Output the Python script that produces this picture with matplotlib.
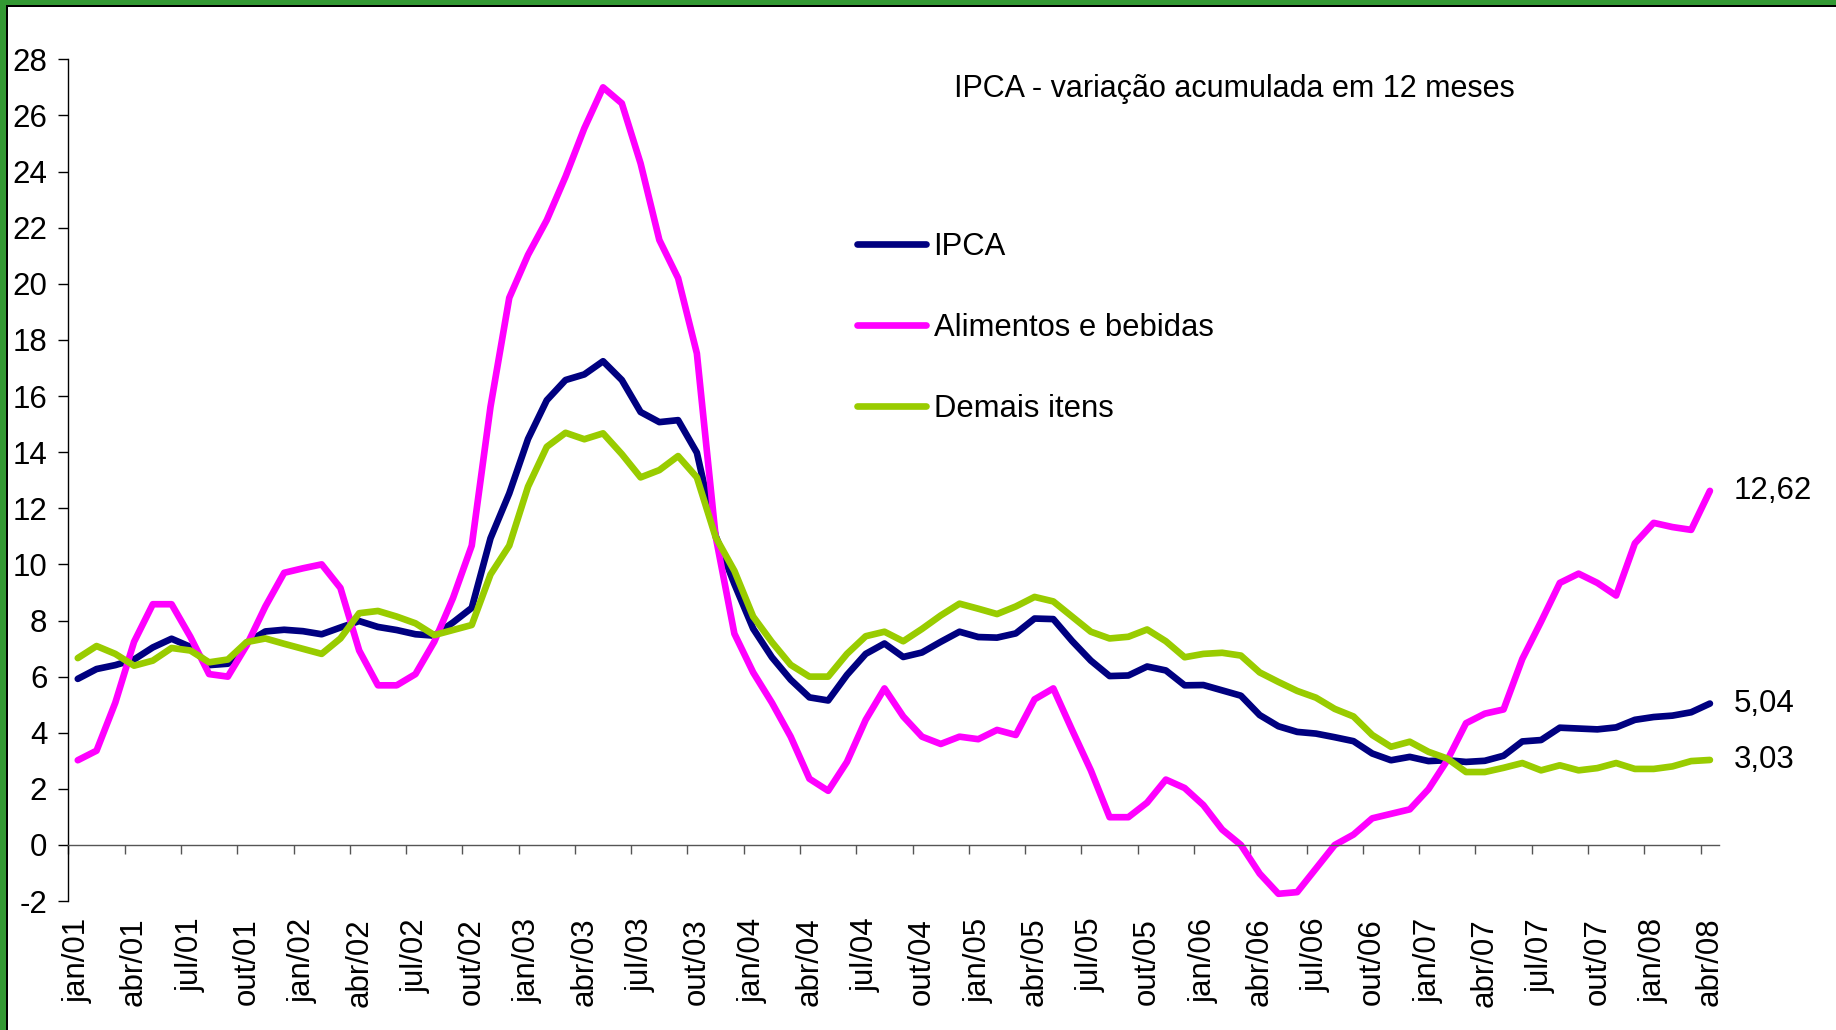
import matplotlib
matplotlib.use('Agg')
import matplotlib.pyplot as plt
from matplotlib.patches import Rectangle
import numpy as np

plt.rcParams['font.family'] = ['Liberation Sans', 'DejaVu Sans']
plt.rcParams['axes.unicode_minus'] = False

month_abbr = ['jan', 'fev', 'mar', 'abr', 'mai', 'jun', 'jul', 'ago', 'set', 'out', 'nov', 'dez']
years = ['01', '02', '03', '04', '05', '06', '07', '08']
months = [f'{m}/{y}' for y in years for m in month_abbr][:88]

ipca = [5.92, 6.27, 6.41, 6.61, 7.04, 7.35, 7.06, 6.41, 6.46, 7.21, 7.61, 7.67,
        7.62, 7.51, 7.75, 7.98, 7.77, 7.66, 7.51, 7.46, 7.93, 8.45, 10.93, 12.53,
        14.47, 15.85, 16.57, 16.77, 17.24, 16.57, 15.43, 15.07, 15.14, 13.98, 11.02, 9.30,
        7.71, 6.69, 5.89, 5.26, 5.15, 6.06, 6.81, 7.18, 6.70, 6.86, 7.24, 7.60,
        7.41, 7.39, 7.54, 8.07, 8.05, 7.27, 6.57, 6.02, 6.04, 6.36, 6.22, 5.69,
        5.70, 5.51, 5.32, 4.63, 4.23, 4.03, 3.97, 3.84, 3.70, 3.26, 3.02, 3.14,
        2.99, 3.02, 2.96, 3.00, 3.18, 3.69, 3.74, 4.18, 4.15, 4.12, 4.19, 4.46,
        4.56, 4.61, 4.73, 5.04]

alimentos = [3.02, 3.36, 5.07, 7.24, 8.58, 8.58, 7.42, 6.09, 6.00, 7.11, 8.50, 9.70,
             9.86, 10.00, 9.16, 6.93, 5.69, 5.69, 6.09, 7.24, 8.80, 10.67, 15.62, 19.50,
             21.03, 22.27, 23.82, 25.54, 27.00, 26.43, 24.29, 21.56, 20.20, 17.52, 11.00, 7.53,
             6.15, 5.07, 3.86, 2.36, 1.93, 2.96, 4.46, 5.58, 4.58, 3.86, 3.60, 3.86,
             3.77, 4.10, 3.92, 5.19, 5.58, 4.10, 2.66, 0.99, 0.99, 1.51, 2.33, 2.03,
             1.42, 0.55, 0.00, -1.02, -1.74, -1.68, -0.84, 0.00, 0.37, 0.95, 1.11, 1.27,
             1.99, 3.02, 4.34, 4.68, 4.83, 6.63, 7.96, 9.34, 9.67, 9.34, 8.89, 10.75,
             11.48, 11.33, 11.23, 12.62]

demais = [6.66, 7.09, 6.81, 6.39, 6.57, 7.02, 6.93, 6.51, 6.61, 7.23, 7.36, 7.17,
          6.99, 6.81, 7.36, 8.26, 8.34, 8.14, 7.90, 7.48, 7.66, 7.84, 9.64, 10.67,
          12.77, 14.19, 14.69, 14.46, 14.67, 13.93, 13.10, 13.36, 13.86, 13.10, 10.97, 9.77,
          8.14, 7.23, 6.42, 6.00, 6.00, 6.81, 7.44, 7.60, 7.26, 7.70, 8.18, 8.60,
          8.42, 8.23, 8.50, 8.84, 8.68, 8.14, 7.60, 7.36, 7.42, 7.68, 7.26, 6.69,
          6.81, 6.85, 6.75, 6.15, 5.81, 5.49, 5.25, 4.85, 4.58, 3.92, 3.50, 3.68,
          3.32, 3.08, 2.60, 2.60, 2.75, 2.92, 2.66, 2.84, 2.66, 2.74, 2.92, 2.71,
          2.71, 2.80, 2.99, 3.03]

series_names = ['IPCA', 'Alimentos e bebidas', 'Demais itens']
series_colors = ['#000080', '#FF00FF', '#99CC00']
end_labels = ['5,04', '12,62', '3,03']
title = 'IPCA - variação acumulada em 12 meses'

W, H = 1836, 1030
fig = plt.figure(figsize=(W / 100, H / 100), dpi=100)
ax = fig.add_axes([68.4 / W, 1 - 901.1 / H, (1719.3 - 68.4) / W, (901.1 - 59.3) / H])

x = np.arange(len(months))
lines = []
for vals, name, col in zip([ipca, alimentos, demais], series_names, series_colors):
    ln, = ax.plot(x, vals, color=col, lw=4.8, solid_joinstyle='round',
                  solid_capstyle='round', label=name)
    lines.append(ln)

for vals, lab in zip([ipca, alimentos, demais], end_labels):
    ax.annotate(lab, xy=(x[-1], vals[-1]), xytext=(17, 0), textcoords='offset points',
                ha='left', va='center', fontsize=22.5, color='black')

ax.set_xlim(-0.5, len(months) - 0.5)
ax.set_ylim(-2, 28)
ax.set_yticks(np.arange(-2, 29, 2))
ax.set_yticklabels([str(v) for v in range(-2, 29, 2)])
ax.tick_params(axis='y', direction='out', length=7.2, width=1.0, pad=8,
               labelsize=22.5, color='black')
ax.set_xticks(np.arange(-0.5, len(months) - 1, 3))
ax.tick_params(axis='x', direction='out', length=6.5, width=1.0, color='#555555',
               labelbottom=False)
ax.spines['bottom'].set_position(('data', 0))
ax.spines['bottom'].set_color('#555555')
ax.spines['bottom'].set_linewidth(1.0)
ax.spines['left'].set_color('black')
ax.spines['left'].set_linewidth(1.0)
ax.spines['top'].set_visible(False)
ax.spines['right'].set_visible(False)
ax.patch.set_alpha(0)

ax2 = ax.twiny()
ax2.set_xlim(ax.get_xlim())
ax2.xaxis.set_ticks_position('bottom')
ax2.set_xticks(x[::3])
ax2.set_xticklabels(months[::3], rotation=90, fontsize=22.5)
ax2.tick_params(axis='x', length=0, pad=12, labeltop=False, labelbottom=True)
for s in ax2.spines.values():
    s.set_visible(False)

leg = ax.legend(handles=lines, loc='center left',
                bbox_to_anchor=(857 / W, 1 - 328 / H), bbox_transform=fig.transFigure,
                frameon=False, fontsize=22.3, handlelength=2.22, handletextpad=0.25,
                labelspacing=1.64, borderpad=0, borderaxespad=0)

fig.text(954 / W, 1 - 88.5 / H, title, ha='left', va='center', fontsize=22.0)

# slide border (green strip with thin black inner line on left and top)
green = '#339933'
fig.add_artist(Rectangle((0, 0), 6 / W, 1, transform=fig.transFigure, color=green, lw=0))
fig.add_artist(Rectangle((0, 1 - 5 / H), 1, 5 / H, transform=fig.transFigure, color=green, lw=0))
fig.add_artist(Rectangle((6 / W, 0), 1.5 / W, 1 - 5 / H, transform=fig.transFigure, color='black', lw=0))
fig.add_artist(Rectangle((6 / W, 1 - 7 / H), 1 - 6 / W, 2 / H, transform=fig.transFigure, color='black', lw=0))

fig.savefig('out.png', dpi=100)
